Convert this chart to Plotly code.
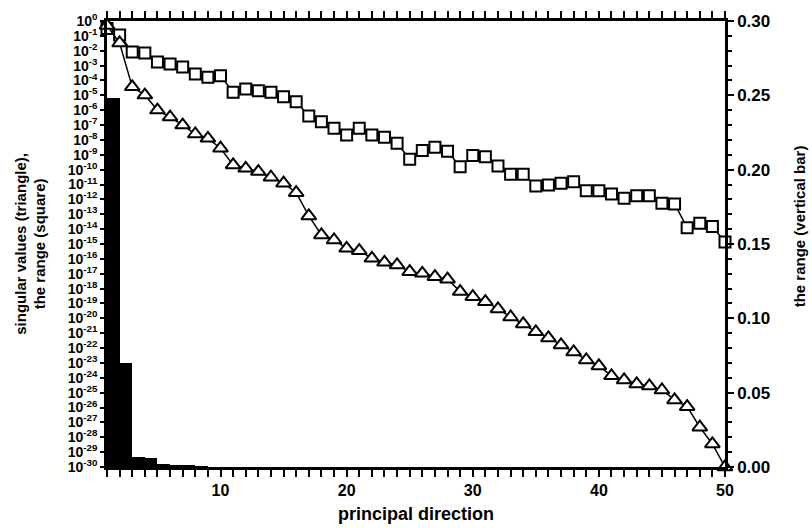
import plotly.graph_objects as go

# principal direction index
direction = list(range(1, 51))

# log10 of the singular values (triangles)
sv_log10 = [-0.3, -1.48, -4.43, -4.98, -5.99, -6.46, -7.0, -7.6, -7.89, -8.56,
            -9.68, -9.91, -10.13, -10.51, -10.91, -11.55, -13.11, -14.39, -14.73, -15.29,
            -15.45, -15.96, -16.23, -16.41, -16.86, -16.97, -17.2, -17.37, -18.2, -18.54,
            -18.88, -19.37, -19.91, -20.38, -20.91, -21.32, -21.79, -22.26, -22.8, -23.2,
            -23.87, -24.14, -24.41, -24.55, -24.82, -25.49, -25.94, -27.32, -28.45, -30.0]

# log10 of the range (squares)
range_log10 = [-0.5, -0.94, -2.08, -2.15, -2.76, -2.89, -3.09, -3.56, -3.79, -3.68,
               -4.79, -4.57, -4.69, -4.79, -5.09, -5.43, -6.39, -6.77, -7.22, -7.67,
               -7.22, -7.67, -7.82, -8.22, -9.3, -8.71, -8.49, -8.76, -9.8, -9.04,
               -9.13, -9.75, -10.31, -10.31, -11.1, -11.03, -10.91, -10.81, -11.41, -11.41,
               -11.63, -11.92, -11.75, -11.75, -12.26, -12.31, -13.9, -13.6, -13.83, -14.86]

# range per direction (vertical bars, right axis)
range_bar = [0.248, 0.070, 0.0067, 0.006, 0.002, 0.0008, 0.0007, 0.0006] + [0.0] * 42

# tick labels for the left log axis
log_exponents = list(range(0, -31, -1))
log_ticktext = ["10<sup>%d</sup>" % e if e == 0 else "10<sup>-%d</sup>" % (-e) for e in log_exponents]

sv = [10 ** v for v in sv_log10]
rg = [10 ** v for v in range_log10]

FONT = "Liberation Sans"

fig = go.Figure()

fig.add_trace(go.Bar(
    x=direction, y=range_bar, width=1, offset=0,
    marker=dict(color="black", line=dict(width=0)),
    yaxis="y2", showlegend=False,
))

fig.add_trace(go.Scatter(
    x=direction, y=rg, mode="lines+markers",
    line=dict(color="black", width=1.5),
    marker=dict(symbol="square", size=11, color="white",
                line=dict(color="black", width=2)),
    cliponaxis=False, showlegend=False,
))

fig.add_trace(go.Scatter(
    x=direction, y=sv, mode="lines+markers",
    line=dict(color="black", width=1.5),
    marker=dict(symbol="triangle-up", size=13, color="white",
                line=dict(color="black", width=2)),
    cliponaxis=False, showlegend=False,
))

fig.update_layout(
    width=812, height=528,
    margin=dict(l=107, r=87, t=21, b=61),
    paper_bgcolor="white", plot_bgcolor="white",
    font=dict(family=FONT, color="black", weight="bold"),
    bargap=0,
    xaxis=dict(
        range=[1, 50], tickvals=[10, 20, 30, 40, 50],
        ticks="outside", ticklen=7, tickwidth=2, tickcolor="black",
        minor=dict(dtick=1, tick0=0, ticks="outside", ticklen=4, tickwidth=1.5, tickcolor="black"),
        showline=True, linecolor="black", linewidth=2.5, mirror="allticks",
        showgrid=False, zeroline=False,
        tickfont=dict(family=FONT, size=16, weight="bold"),
    ),
    yaxis=dict(
        type="log", range=[-30, 0],
        tickvals=[10 ** e for e in log_exponents], ticktext=log_ticktext,
        ticks="outside", ticklen=4, tickwidth=1.5, tickcolor="black",
        showline=True, linecolor="black", linewidth=2.5,
        showgrid=False, zeroline=False,
        tickfont=dict(family=FONT, size=14, weight="bold"),
    ),
    yaxis2=dict(
        overlaying="y", side="right", range=[0, 0.30],
        tickvals=[0.0, 0.05, 0.10, 0.15, 0.20, 0.25, 0.30],
        ticktext=["0.00", "0.05", "0.10", "0.15", "0.20", "0.25", "0.30"],
        ticks="outside", ticklen=6, tickwidth=2, tickcolor="black",
        minor=dict(dtick=0.01, tick0=0, ticks="outside", ticklen=4, tickwidth=1.5, tickcolor="black"),
        showline=True, linecolor="black", linewidth=2.5,
        showgrid=False, zeroline=False,
        tickfont=dict(family=FONT, size=17, weight="bold"),
    ),
    annotations=[
        dict(text="singular values (triangle),<br>the range (square)",
             xref="paper", yref="paper", x=-0.125, y=0.5, xanchor="center", yanchor="middle",
             textangle=-90, showarrow=False,
             font=dict(family=FONT, size=15, weight="bold")),
        dict(text="the range (vertical bar)",
             xref="paper", yref="paper", x=1.12, y=0.54, xanchor="center", yanchor="middle",
             textangle=-90, showarrow=False,
             font=dict(family=FONT, size=15, weight="bold")),
        dict(text="principal direction",
             xref="paper", yref="paper", x=0.5, y=-0.105, xanchor="center", yanchor="middle",
             showarrow=False,
             font=dict(family=FONT, size=18, weight="bold")),
    ],
)

fig.write_html("out.html")
